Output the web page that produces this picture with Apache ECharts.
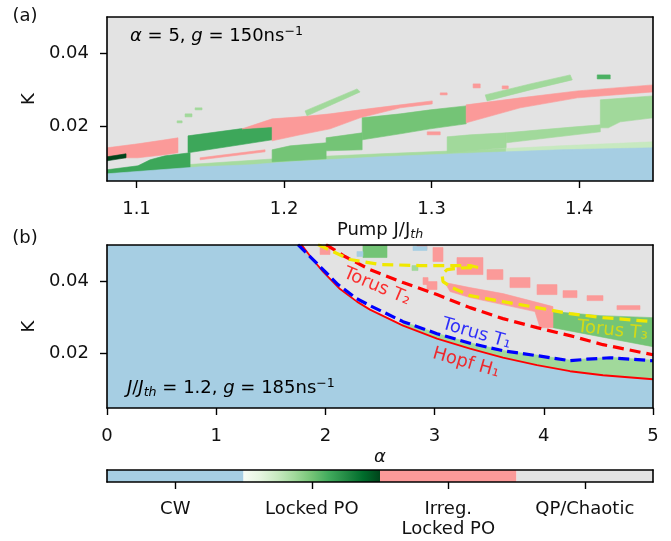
<!DOCTYPE html>
<html>
<head>
<meta charset="utf-8">
<script src="https://cdn.jsdelivr.net/npm/echarts@6.0.0/dist/echarts.min.js"></script>
<style>
html,body{margin:0;padding:0;background:#ffffff;}
#chart{width:671px;height:541px;}
</style>
</head>
<body>
<div id="chart"></div>
<script>
// ================= DATA =================
// ---- Panel (a): K vs pump J/Jth  (alpha = 5, g = 150 ns^-1) ----
const aXTicks = [1.1, 1.2, 1.3, 1.4];
const aYTicks = [0.02, 0.04];
// region polygons [J/Jth, K]
const aDomain   = [[1.08,0.005],[1.45,0.005],[1.45,0.05],[1.08,0.05]];
const aStripL   = [[1.1329,0.00945],[1.2041,0.01137],[1.2651,0.01246],[1.3329,0.01356],[1.3505,0.01391],[1.3505,0.005],[1.1329,0.005]];
const aStripR   = [[1.3505,0.01391],[1.3871,0.01465],[1.45,0.01575],[1.45,0.005],[1.3505,0.005]];
const aDarkLow  = [[1.08,0.00808],[1.101,0.00917],[1.1092,0.01082],[1.1193,0.01191],[1.1363,0.01274],[1.1363,0.005],[1.08,0.005]];
const aCW       = [[1.08,0.005],[1.08,0.00698],[1.1159,0.00808],[1.1431,0.0089],[1.177,0.00945],[1.2041,0.01027],[1.2651,0.01164],[1.3329,0.01274],[1.3871,0.01356],[1.45,0.01411],[1.45,0.005]];
const aPinkL    = [[1.08,0.01411],[1.101,0.0152],[1.1193,0.0163],[1.1281,0.01685],[1.1281,0.01274],[1.1193,0.01219],[1.101,0.01137],[1.08,0.01137]];
const aDarkest  = [[1.08,0.01164],[1.0929,0.01246],[1.0929,0.01137],[1.08,0.01054]];
const aDarkUp   = [[1.1349,0.01274],[1.1349,0.01739],[1.1702,0.01931],[1.1919,0.01986],[1.1919,0.0163],[1.1702,0.01493]];
const aPinkM    = [[1.1715,0.01931],[1.1919,0.02205],[1.2109,0.0226],[1.2312,0.02342],[1.2515,0.02452],[1.2787,0.02589],[1.3004,0.02698],[1.3004,0.02616],[1.2787,0.02507],[1.2515,0.02233],[1.2312,0.01931],[1.2109,0.01767],[1.1919,0.01602],[1.1919,0.01986]];
const aPinkLine = [[1.1431,0.01137],[1.1871,0.01356],[1.1871,0.01301],[1.1431,0.01082]];
const aMidLow   = [[1.1919,0.01027],[1.1919,0.01356],[1.2041,0.01465],[1.2285,0.01548],[1.2285,0.01685],[1.2529,0.01822],[1.2529,0.01356],[1.2285,0.01328],[1.2285,0.0111],[1.2041,0.01054]];
const aMidUp    = [[1.2529,0.0163],[1.2529,0.02233],[1.2787,0.02342],[1.299,0.02452],[1.3234,0.02561],[1.3234,0.02068],[1.299,0.01931],[1.2787,0.01794]];
const aPinkR    = [[1.3234,0.02589],[1.36,0.02781],[1.3987,0.02972],[1.45,0.03137],[1.45,0.02945],[1.3987,0.02781],[1.36,0.02507],[1.3234,0.02096]];
const aLightA   = [[1.3105,0.01274],[1.3105,0.01712],[1.3261,0.01767],[1.3505,0.01822],[1.3505,0.01411],[1.3329,0.01356]];
const aLightB   = [[1.3505,0.01548],[1.3505,0.01822],[1.3736,0.01904],[1.3973,0.01986],[1.4143,0.02041],[1.4143,0.01849],[1.3736,0.01657]];
const aLightC   = [[1.4143,0.02726],[1.45,0.02835],[1.45,0.02233],[1.4278,0.02123],[1.4197,0.01959],[1.4143,0.01959]];
const aSliver1  = [[1.2142,0.02424],[1.2495,0.03027],[1.2515,0.02945],[1.2156,0.02287]];
const aSliver2  = [[1.3363,0.02863],[1.3668,0.03164],[1.3939,0.03411],[1.3953,0.03274],[1.3668,0.03],[1.3376,0.02698]];
// small cells [J0, J1, K0, K1]
const aLightBits = [[1.1275,1.1309,0.02096,0.0215],[1.1329,1.1376,0.0226,0.02342],[1.1397,1.1444,0.02452,0.02507]];
const aMidBits   = [[1.4122,1.421,0.03301,0.03411]];
const aPinkBits  = [[1.297,1.3058,0.01767,0.01849],[1.3281,1.3329,0.03055,0.03164],[1.3478,1.3519,0.03027,0.03109],[1.3058,1.3105,0.02863,0.02918]];

// ---- Panel (b): K vs alpha  (J/Jth = 1.2, g = 185 ns^-1) ----
const bXTicks = [0, 1, 2, 3, 4, 5];
const bYTicks = [0.02, 0.04];
const hopfH1  = [[1.78,0.0501],[1.877,0.04627],[1.978,0.04267],[2.134,0.03783],[2.289,0.03437],[2.408,0.03216],[2.711,0.02773],[3.022,0.02414],[3.324,0.02137],[3.626,0.01888],[3.938,0.01681],[4.24,0.01515],[4.542,0.01404],[5.0,0.01294]];
const torusT1 = [[1.749,0.0501],[1.859,0.04682],[1.96,0.04378],[2.115,0.03907],[2.28,0.03534],[2.408,0.03327],[2.711,0.02884],[3.022,0.02552],[3.324,0.02289],[3.626,0.02082],[3.938,0.01944],[4.24,0.01805],[4.396,0.01847],[4.606,0.01888],[5.0,0.01805]];
const torusT2 = [[2.005,0.0501],[2.179,0.04682],[2.408,0.04322],[2.711,0.03963],[3.022,0.03631],[3.324,0.03271],[3.626,0.02967],[3.938,0.02718],[4.24,0.02497],[4.542,0.02248],[5.0,0.01971]];
const torusT3 = [[1.932,0.0501],[2.225,0.04599],[2.5,0.04461],[2.866,0.04433],[3.324,0.04433],[3.397,0.04378],[3.233,0.04364],[3.114,0.04322],[3.068,0.04184],[3.077,0.0399],[3.159,0.03824],[3.324,0.03603],[3.626,0.03437],[3.938,0.03271],[4.24,0.03105],[4.542,0.02995],[5.0,0.02884]];
const bDomain   = [[0,0.005],[5,0.005],[5,0.05],[0,0.05]];
const bStrip    = [[2.711,0.02884],[3.022,0.0256],[3.324,0.023],[3.626,0.0209],[3.938,0.0196],[4.24,0.0182],[4.396,0.0186],[4.606,0.019],[5,0.0182],[5,0.005],[2.711,0.005]];
const bT3Zone   = [[4.084,0.03161],[4.515,0.0305],[5,0.02995],[5,0.02192],[4.515,0.02469],[4.084,0.02718]];
const bPinkWedge= [[3.095,0.03963],[3.324,0.03824],[3.626,0.03658],[3.874,0.03465],[4.084,0.03299],[4.084,0.02718],[3.965,0.02718],[3.919,0.03161],[3.626,0.03354],[3.324,0.03548],[3.141,0.03714]];
const bPinkBits = [[2.985,3.077,0.04544,0.04931],[3.205,3.443,0.04184,0.04654],[3.48,3.626,0.04046,0.04322],[3.69,3.874,0.03824,0.04101],[3.938,4.121,0.03631,0.03907],[4.176,4.304,0.03548,0.03741],[4.396,4.542,0.03465,0.03603],[4.67,4.881,0.03216,0.03327],[1.951,2.042,0.04737,0.05],[2.839,2.93,0.04876,0.05],[2.894,2.94,0.03907,0.04101],[2.93,3.022,0.03769,0.03991]];
const bMidBits  = [[2.344,2.564,0.04654,0.05]];
const bLightBits= [[2.793,2.848,0.04295,0.04433]];
const bCWBits   = [[2.289,2.344,0.04682,0.0482],[2.802,2.93,0.04848,0.04959]];
// curve label anchors [alpha, K]
const bLabelT2 = [2.473, 0.03852];
const bLabelT1 = [3.384, 0.02552];
const bLabelH1 = [3.288, 0.0175];
const bLabelT3 = [4.629, 0.02635];

// ---- colour bar ----
const cbClasses = ['cw', 'lpo', 'irr', 'qp'];
const cbLabels  = ['CW', 'Locked PO', 'Irreg.\nLocked PO', 'QP/Chaotic'];

// ================= STYLE / BUILD =================
const FONT = 'DejaVu Sans';
const FS = 18;
const FSS = 12.6;
const TXT = '#111111';
const GREENS = ['#f7fcf5','#e5f5e0','#c7e9c0','#a1d99b','#74c476','#41ab5d','#238b45','#006d2c','#00441b'];
function hex(h){return [parseInt(h.substr(1,2),16),parseInt(h.substr(3,2),16),parseInt(h.substr(5,2),16)];}
function greens(t){
  const n = GREENS.length-1, f = Math.min(Math.max(t,0),1)*n, i = Math.min(Math.floor(f), n-1), u = f-i;
  const a = hex(GREENS[i]), b = hex(GREENS[i+1]);
  return 'rgb(' + a.map((v,k)=>Math.round(v+(b[k]-v)*u)).join(',') + ')';
}
function colorOf(cls, lvl){
  if (cls==='cw') return '#a6cee3';
  if (cls==='irr') return '#fb9a99';
  if (cls==='qp') return '#e3e3e3';
  return greens(lvl);
}
const rectPoly = r => [[r[0],r[2]],[r[1],r[2]],[r[1],r[3]],[r[0],r[3]]];

const aRegions = [
  ['qp',0,aDomain],['lpo',0.36,aStripL],['lpo',0.25,aStripR],['lpo',0.64,aDarkLow],['cw',0,aCW],
  ['irr',0,aPinkL],['lpo',1.0,aDarkest],['lpo',0.64,aDarkUp],['irr',0,aPinkM],['irr',0,aPinkLine],
  ['lpo',0.5,aMidLow],['lpo',0.5,aMidUp],['irr',0,aPinkR],['lpo',0.375,aLightA],['lpo',0.375,aLightB],
  ['lpo',0.375,aLightC],['lpo',0.375,aSliver1],['lpo',0.375,aSliver2]
].concat(aLightBits.map(r=>['lpo',0.375,rectPoly(r)]))
 .concat(aMidBits.map(r=>['lpo',0.6,rectPoly(r)]))
 .concat(aPinkBits.map(r=>['irr',0,rectPoly(r)]));

const bCW = [[0,0.005],[0,0.0501]].concat(hopfH1).concat([[5,0.005]]);
const bRegions = [
  ['qp',0,bDomain],['lpo',0.375,bStrip],['cw',0,bCW],['lpo',0.5,bT3Zone],['irr',0,bPinkWedge]
].concat(bPinkBits.map(r=>['irr',0,rectPoly(r)]))
 .concat(bMidBits.map(r=>['lpo',0.5,rectPoly(r)]))
 .concat(bLightBits.map(r=>['lpo',0.375,rectPoly(r)]))
 .concat(bCWBits.map(r=>['cw',0,rectPoly(r)]));

function regionSeries(axisIdx, regions){
  return {
    type:'custom', xAxisIndex:axisIdx, yAxisIndex:axisIdx, clip:true, silent:true,
    data: regions.map((r,i)=>[r[2][0][0], r[2][0][1], i]),
    encode:{x:0, y:1},
    renderItem:(params, api)=>{
      const r = regions[params.dataIndex];
      const c = colorOf(r[0], r[1]);
      return {type:'polygon', shape:{points:r[2].map(p=>api.coord(p))}, style:{fill:c, stroke:c, lineWidth:0.6}};
    }
  };
}

const lineStyleAx = {color:'#000', width:1.6};
const tickStyle = {color:'#000', width:1.4};
const labelBase = {color:TXT, fontSize:FS, fontFamily:FONT};

function mainX(gi, min, max, ticks, fmt, name, nameGap, rich){
  return {gridIndex:gi, type:'value', min:min, max:max, position:'bottom', z:10,
    axisLine:{show:true,onZero:false,lineStyle:lineStyleAx},
    axisTick:{show:true,length:7,lineStyle:tickStyle,customValues:ticks},
    axisLabel:Object.assign({margin:19,customValues:ticks,formatter:fmt},labelBase),
    splitLine:{show:false},
    name:name, nameLocation:'middle', nameGap:nameGap,
    nameTextStyle:Object.assign({lineHeight:22, rich:rich}, labelBase)};
}
function frameX(gi, min, max, type, data){
  const o = {gridIndex:gi, type:type||'value', position:'top', z:10,
    axisLine:{show:true,onZero:false,lineStyle:lineStyleAx}, axisTick:{show:false}, axisLabel:{show:false}, splitLine:{show:false}};
  if (type==='category') o.data = data; else {o.min=min; o.max=max;}
  return o;
}
function mainY(gi, ticks){
  return {gridIndex:gi, type:'value', min:0.005, max:0.05, position:'left', z:10,
    axisLine:{show:true,onZero:false,lineStyle:lineStyleAx},
    axisTick:{show:true,length:7,lineStyle:tickStyle,customValues:ticks},
    axisLabel:Object.assign({margin:18,customValues:ticks,formatter:v=>v.toFixed(2)},labelBase),
    splitLine:{show:false},
    name:'K', nameLocation:'middle', nameRotate:90, nameGap:57, nameTextStyle:labelBase};
}
function frameY(gi, min, max){
  return {gridIndex:gi, type:'value', min:min, max:max, position:'right', z:10,
    axisLine:{show:true,onZero:false,lineStyle:lineStyleAx}, axisTick:{show:false}, axisLabel:{show:false}, splitLine:{show:false}};
}

const subRich = {s:{fontSize:FSS, fontStyle:'italic', fontFamily:FONT, color:TXT, verticalAlign:'bottom', lineHeight:11}};
const italRich = {i:{fontSize:FS, fontStyle:'italic', fontFamily:FONT, color:TXT}};

function curve(data, color, width, type){
  return {type:'line', xAxisIndex:2, yAxisIndex:2, data:data, showSymbol:false, symbol:'none', clip:true, silent:true, z:4,
    lineStyle:{color:color, width:width, type:type}};
}
function curveLabel(pos, text, color, rot){
  return {type:'scatter', xAxisIndex:2, yAxisIndex:2, data:[pos], symbolSize:0, silent:true, z:6,
    label:{show:true, position:'inside', formatter:text, rotate:rot, color:color, fontSize:FS, fontFamily:FONT}};
}

const gradStops = GREENS.map((c,i)=>({offset:i/(GREENS.length-1), color:c}));

const option = {
  animation:false,
  backgroundColor:'#ffffff',
  grid:[
    {left:107, top:17, width:546, height:164},
    {left:107, top:245, width:546, height:163},
    {left:107, top:470, width:546, height:12}
  ],
  xAxis:[
    mainX(0, 1.08, 1.45, aXTicks, v=>v.toFixed(1), 'Pump J/J{s|th}', 37, subRich),
    frameX(0, 1.08, 1.45),
    Object.assign(mainX(1, 0, 5, bXTicks, v=>String(Math.round(v)), '{i|α}', 37, italRich), {interval:1}),
    frameX(1, 0, 5),
    {gridIndex:2, type:'category', data:cbLabels, position:'bottom', boundaryGap:true, z:10,
      axisLine:{show:true,onZero:false,lineStyle:lineStyleAx},
      axisTick:{show:true,alignWithLabel:true,length:7,lineStyle:tickStyle},
      axisLabel:Object.assign({margin:17, lineHeight:20, interval:0}, labelBase),
      splitLine:{show:false}},
    frameX(2, null, null, 'category', cbLabels)
  ],
  yAxis:[
    mainY(0, aYTicks),
    frameY(0, 0.005, 0.05),
    mainY(1, bYTicks),
    frameY(1, 0.005, 0.05),
    {gridIndex:2, type:'value', min:0, max:1, position:'left', z:10,
      axisLine:{show:true,onZero:false,lineStyle:lineStyleAx}, axisTick:{show:false}, axisLabel:{show:false}, splitLine:{show:false}},
    frameY(2, 0, 1)
  ],
  graphic:[
    {type:'text', x:25, y:16, style:{text:'(a)', fontSize:FS, fontFamily:FONT, fill:TXT, textAlign:'center', textVerticalAlign:'middle'}},
    {type:'text', x:25, y:238, style:{text:'(b)', fontSize:FS, fontFamily:FONT, fill:TXT, textAlign:'center', textVerticalAlign:'middle'}},
    {type:'text', x:130, y:36, z:20, style:{text:'{i|α} = 5, {i|g} = 150ns{u|−1}', fontSize:FS, fontFamily:FONT, fill:'#000', lineHeight:22,
      textAlign:'left', textVerticalAlign:'middle',
      rich:{i:{fontSize:FS, fontStyle:'italic', fontFamily:FONT, fill:'#000', lineHeight:22},
            u:{fontSize:FSS, fontFamily:FONT, fill:'#000', verticalAlign:'top', lineHeight:11}}}},
    {type:'text', x:127, y:388, z:20, style:{text:'{i|J}/{i|J}{s|th} = 1.2, {i|g} = 185ns{u|−1}', fontSize:FS, fontFamily:FONT, fill:'#000', lineHeight:22,
      textAlign:'left', textVerticalAlign:'middle',
      rich:{i:{fontSize:FS, fontStyle:'italic', fontFamily:FONT, fill:'#000', lineHeight:22},
            s:{fontSize:FSS, fontStyle:'italic', fontFamily:FONT, fill:'#000', verticalAlign:'bottom', lineHeight:11},
            u:{fontSize:FSS, fontFamily:FONT, fill:'#000', verticalAlign:'top', lineHeight:11}}}}
  ],
  series:[
    regionSeries(0, aRegions),
    regionSeries(2, bRegions),
    curve(hopfH1, '#ff0000', 1.8, 'solid'),
    curve(torusT1, '#0000ff', 3.2, [11,5]),
    curve(torusT2, '#ff0000', 3.2, [11,6]),
    curve(torusT3, '#f0e800', 3.2, [11,6]),
    curveLabel(bLabelT2, 'Torus T₂', '#ff0000', -23),
    curveLabel(bLabelT1, 'Torus T₁', '#0000ff', -16),
    curveLabel(bLabelH1, 'Hopf H₁', '#ff0000', -16),
    curveLabel(bLabelT3, 'Torus T₃', '#e8e000', -6),
    {type:'custom', xAxisIndex:4, yAxisIndex:4, silent:true, clip:false,
      data: cbClasses.map((c,i)=>[i, 0]), encode:{x:0, y:1},
      renderItem:(params, api)=>{
        const i = params.dataIndex;
        const p = api.coord([i, 0]);
        const sz = api.size([1, 1]);
        const cls = cbClasses[i];
        const fill = cls==='lpo' ? new echarts.graphic.LinearGradient(0,0,1,0,gradStops) : colorOf(cls,0);
        return {type:'rect', shape:{x:p[0]-sz[0]/2, y:p[1]-sz[1], width:sz[0], height:sz[1]}, style:{fill:fill}};
      }}
  ]
};

const chart = echarts.init(document.getElementById('chart'), null, {renderer:'canvas'});
chart.setOption(option);
</script>
</body>
</html>
